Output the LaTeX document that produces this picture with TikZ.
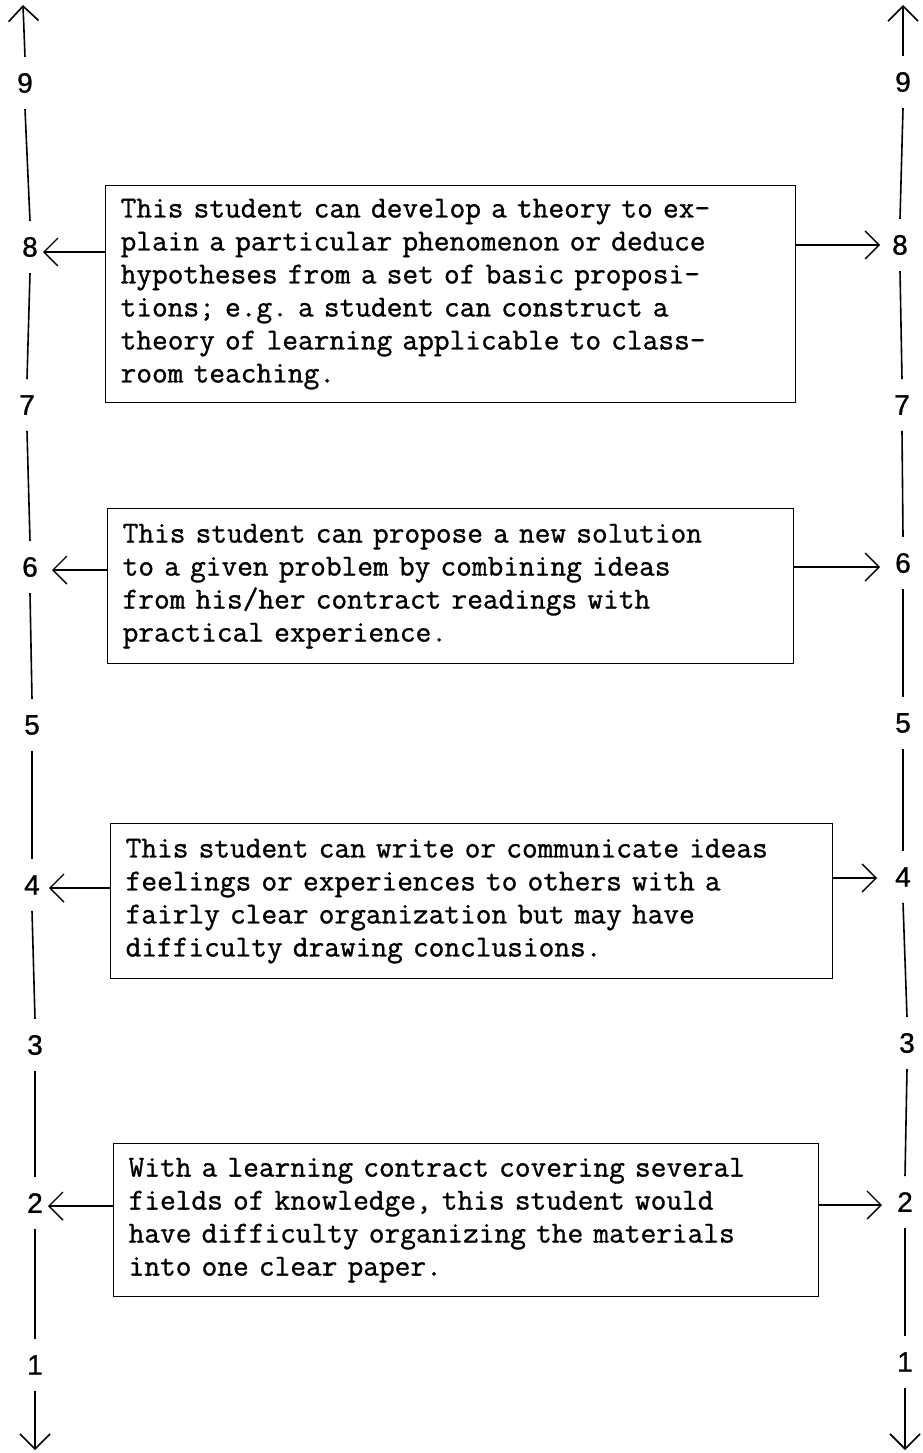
\documentclass[tikz,border=0pt]{standalone}
\usepackage{fontspec}
\setmainfont{Liberation Serif}
\newfontfamily\twfont[FakeBold=1.0]{Latin Modern Mono}
\newfontfamily\digfont[FakeBold=1.0]{Liberation Sans}
\usetikzlibrary{arrows.meta}
\begin{document}
\begin{tikzpicture}[x=1pt,y=-1pt,
  axis/.style={line width=1.6pt},
  vtip/.style={-{Straight Barb[length=15pt,width=30pt]}},
  arr/.style={line width=1.4pt,-{Straight Barb[length=14pt,width=28pt]}},
  digit/.style={font=\digfont\fontsize{28}{32}\selectfont,inner xsep=2pt,inner ysep=16pt},
  textbox/.style={draw,line width=1.3pt,align=left,inner xsep=15pt,inner ysep=0pt,
    anchor=north west,font=\twfont\fontsize{30.5}{33}\selectfont\frenchspacing}]
\useasboundingbox (0,0) rectangle (923,1453);

% left scale
\node[digit] (L9) at (25,83) {9};
\node[digit] (L8) at (30,247) {8};
\node[digit] (L7) at (27,405) {7};
\node[digit] (L6) at (30,567) {6};
\node[digit] (L5) at (32,725) {5};
\node[digit] (L4) at (32,885) {4};
\node[digit] (L3) at (35,1045) {3};
\node[digit] (L2) at (35,1203) {2};
\node[digit] (L1) at (35,1365) {1};
\coordinate (LT) at (23,5);
\coordinate (LB) at (35,1450);

% right scale
\node[digit] (R9) at (903,82) {9};
\node[digit] (R8) at (900,245) {8};
\node[digit] (R7) at (902,405) {7};
\node[digit] (R6) at (903,563) {6};
\node[digit] (R5) at (903,723) {5};
\node[digit] (R4) at (903,877) {4};
\node[digit] (R3) at (907,1043) {3};
\node[digit] (R2) at (905,1202) {2};
\node[digit] (R1) at (905,1362) {1};
\coordinate (RT) at (903,5);
\coordinate (RB) at (905,1450);

\draw[axis,vtip] (L9.north) -- (LT);
\draw[axis] (L9.south) -- (L8.north);
\draw[axis] (L8.south) -- (L7.north);
\draw[axis] (L7.south) -- (L6.north);
\draw[axis] (L6.south) -- (L5.north);
\draw[axis] (L5.south) -- (L4.north);
\draw[axis] (L4.south) -- (L3.north);
\draw[axis] (L3.south) -- (L2.north);
\draw[axis] (L2.south) -- (L1.north);
\draw[axis,vtip] (L1.south) -- (LB);

\draw[axis,vtip] (R9.north) -- (RT);
\draw[axis] (R9.south) -- (R8.north);
\draw[axis] (R8.south) -- (R7.north);
\draw[axis] (R7.south) -- (R6.north);
\draw[axis] (R6.south) -- (R5.north);
\draw[axis] (R5.south) -- (R4.north);
\draw[axis] (R4.south) -- (R3.north);
\draw[axis] (R3.south) -- (R2.north);
\draw[axis] (R2.south) -- (R1.north);
\draw[axis,vtip] (R1.south) -- (RB);

% boxes
\node[textbox,minimum width=690pt,minimum height=217pt,text width=660pt] (b1) at (105,185)
{This student can develop a theory to ex-\\
plain a particular phenomenon or deduce\\
hypotheses from a set of basic proposi-\\
tions; e.g. a student can construct a\\
theory of learning applicable to class-\\
room teaching.};

\node[textbox,minimum width=686pt,minimum height=155pt,text width=656pt] (b2) at (107,508)
{This student can propose a new solution\\
to a given problem by combining ideas\\
from his/her contract readings with\\
practical experience.};

\node[textbox,minimum width=722pt,minimum height=155pt,text width=692pt] (b3) at (110,823)
{This student can write or communicate ideas\\
feelings or experiences to others with a\\
fairly clear organization but may have\\
difficulty drawing conclusions.};

\node[textbox,minimum width=705pt,minimum height=153pt,text width=675pt] (b4) at (113,1143)
{With a learning contract covering several\\
fields of knowledge, this student would\\
have difficulty organizing the materials\\
into one clear paper.};

% arrow tips
\coordinate (l8) at (43,252);
\coordinate (l6) at (52,570);
\coordinate (l4) at (49,888);
\coordinate (l2) at (48,1206);
\coordinate (r8) at (880,245);
\coordinate (r6) at (880,567);
\coordinate (r4) at (877,878);
\coordinate (r2) at (882,1205);

\draw[arr] (b1.west |- l8) -- (l8);
\draw[arr] (b2.west |- l6) -- (l6);
\draw[arr] (b3.west |- l4) -- (l4);
\draw[arr] (b4.west |- l2) -- (l2);
\draw[arr] (b1.east |- r8) -- (r8);
\draw[arr] (b2.east |- r6) -- (r6);
\draw[arr] (b3.east |- r4) -- (r4);
\draw[arr] (b4.east |- r2) -- (r2);
\end{tikzpicture}
\end{document}
